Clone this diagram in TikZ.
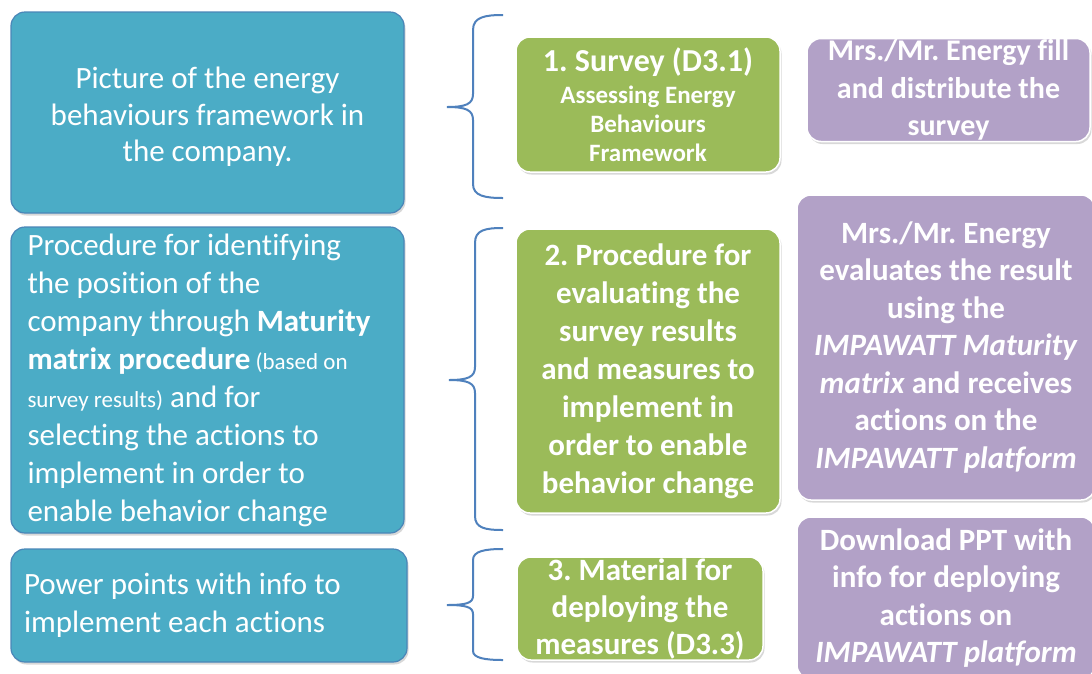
\documentclass[tikz,border=0pt]{standalone}
\usepackage{fontspec}
\setmainfont{Carlito}[Ligatures=NoCommon]
\frenchspacing
\usetikzlibrary{shadows}
\definecolor{bfill}{HTML}{4BACC6}
\definecolor{bdraw}{HTML}{4A86B8}
\definecolor{gfill}{HTML}{9BBB59}
\definecolor{pfill}{HTML}{B2A1C7}
\definecolor{brc}{HTML}{4F81BD}
\tikzset{
  box/.style={rounded corners=14pt, inner sep=0pt, text=white,
    drop shadow={opacity=0.3, shadow xshift=1.5pt, shadow yshift=-2.5pt}},
  bluebox/.style={box, fill=bfill, draw=bdraw, line width=1.2pt,
    font=\fontsize{31}{38}\selectfont},
  greenbox/.style={box, fill=gfill, draw=white, line width=1.5pt,
    font=\fontsize{31}{38}\selectfont\bfseries, align=center},
  purplebox/.style={box, fill=pfill, draw=white, line width=1.5pt,
    font=\fontsize{31}{37.5}\selectfont\bfseries, align=center},
  bracestyle/.style={draw=brc, line width=2pt}
}
\begin{document}
\begin{tikzpicture}[x=1pt,y=-1pt]
\useasboundingbox[fill=white] (0,0) rectangle (1092,673);
% blue boxes
\node[bluebox, minimum width=393pt, minimum height=201pt, align=center, font=\fontsize{31}{36.5}\selectfont] (b1) at (207.5,112.5)
  {\rule{0pt}{30pt}Picture of the energy\\behaviours framework in\\the company.};
\node[bluebox, minimum width=393pt, minimum height=306pt, text width=360pt, align=flush left] (b2) at (207.5,380)
  {Procedure for identifying\\the position of the\\company through \textbf{Maturity}\\\textbf{matrix procedure}{\fontsize{23}{38}\selectfont\ (based on}\\{\fontsize{23}{38}\selectfont survey results)} and for\\selecting the actions to\\implement in order to\\enable behavior change};
\node[bluebox, minimum width=396pt, minimum height=113pt, text width=370pt, align=flush left] (b3) at (209,605.5)
  {Power points with info to\\implement each actions};
% braces
\draw[bracestyle] (503,15) .. controls (485,15) and (473,17) .. (473,30) -- (473,94)
  .. controls (473,104) and (466,107) .. (447,107)
  .. controls (466,107) and (473,110) .. (473,120) -- (473,184)
  .. controls (473,196) and (485,198) .. (503,198);
\draw[bracestyle] (503,228) .. controls (485,228) and (475,230) .. (475,243) -- (475,367)
  .. controls (475,377) and (468,380) .. (449,380)
  .. controls (468,380) and (475,383) .. (475,393) -- (475,516)
  .. controls (475,528) and (485,530) .. (503,530);
\draw[bracestyle] (503,549) .. controls (485,549) and (473,551) .. (473,560) -- (473,596)
  .. controls (473,603) and (466,605) .. (447,605)
  .. controls (466,605) and (473,607) .. (473,614) -- (473,651)
  .. controls (473,658) and (485,660) .. (503,660);
% green boxes
\node[greenbox, minimum width=264pt, minimum height=135pt, font=\fontsize{25}{29}\selectfont\bfseries] (g1) at (648,104.5)
  {{\fontsize{32}{34}\selectfont 1. Survey (D3.1)}\\[3pt]Assessing Energy\\Behaviours\\Framework};
\node[greenbox, minimum width=264pt, minimum height=284pt] (g2) at (648,371)
  {2. Procedure for\\evaluating the\\survey results\\and measures to\\implement in\\order to enable\\behavior change};
\node[greenbox, minimum width=246pt, minimum height=103pt, font=\fontsize{31}{37}\selectfont\bfseries] (g3) at (640,608.5)
  {3. Material for\\deploying the\\measures (D3.3)};
% purple boxes
\node[purplebox, minimum width=283pt, minimum height=103pt, font=\fontsize{30}{37.5}\selectfont\bfseries] (p1) at (948.5,90)
  {Mrs./Mr. Energy fill\\and distribute the\\survey};
\node[purplebox, minimum width=298pt, minimum height=305pt] (p2) at (946,347.5)
  {Mrs./Mr. Energy\\evaluates the result\\using the\\\textit{IMPAWATT Maturity}\\\textit{matrix} and receives\\actions on the\\\textit{IMPAWATT platform}};
\node[purplebox, minimum width=298pt, minimum height=162pt] (p3) at (946,598)
  {Download PPT with\\info for deploying\\actions on\\\textit{IMPAWATT platform}};
\end{tikzpicture}
\end{document}
